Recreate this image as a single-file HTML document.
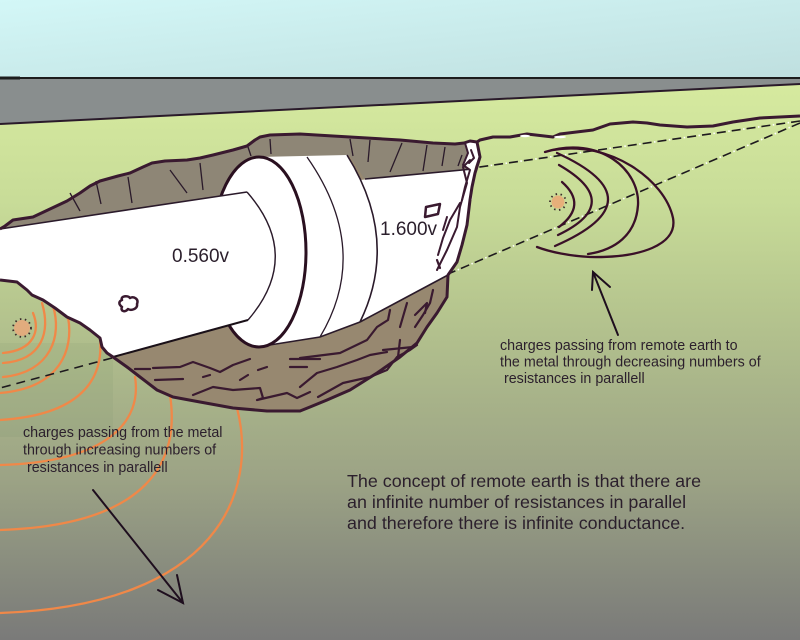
<!DOCTYPE html>
<html><head><meta charset="utf-8"><style>
html,body{margin:0;padding:0;background:#fff;}
svg{display:block;}
text{font-family:"Liberation Sans",Arial,sans-serif;fill:#2b1f2c;}
</style></head><body>
<svg width="800" height="640" viewBox="0 0 800 640" xmlns="http://www.w3.org/2000/svg">
<defs>
<linearGradient id="sky" x1="0" y1="0" x2="1" y2="1">
<stop offset="0" stop-color="#d3f7f7"/><stop offset="1" stop-color="#bfdfdf"/>
</linearGradient>
<linearGradient id="gnd" gradientUnits="userSpaceOnUse" x1="0" y1="84" x2="0" y2="640">
<stop offset="0" stop-color="#d6ea9f"/>
<stop offset="0.21" stop-color="#c8dc98"/>
<stop offset="0.39" stop-color="#b7c78f"/>
<stop offset="0.57" stop-color="#a7b289"/>
<stop offset="0.71" stop-color="#9ca385"/>
<stop offset="0.85" stop-color="#8b8f7f"/>
<stop offset="1" stop-color="#7a7a79"/>
</linearGradient>
</defs>

<!-- sky -->
<rect x="0" y="0" width="800" height="79" fill="url(#sky)"/>
<!-- gray band -->
<polygon points="0,78 800,78 800,84 0,124" fill="#898e8e"/>
<!-- ground -->
<polygon points="0,124 800,84 800,640 0,640" fill="url(#gnd)"/>
<line x1="0" y1="78" x2="800" y2="78" stroke="#1c1c1c" stroke-width="2"/>
<rect x="0" y="76.5" width="20" height="3" fill="#1c1c1c"/>
<line x1="0" y1="124" x2="800" y2="84" stroke="#2a1a2a" stroke-width="2"/>

<!-- faint rectangle -->
<rect x="0" y="343" width="113" height="94" fill="#6f8a62" opacity="0.10"/>

<!-- orange arcs -->
<g fill="none" stroke="#f08848" stroke-width="2.3" stroke-linecap="round">
<path d="M33,313 C40,330 35,350 3,353"/>
<path d="M42,303 C50,330 44,360 3,363"/>
<path d="M53,306 C62,335 52,372 3,377"/>
<path d="M68,317 C74,350 60,388 0,393"/>
<path d="M100,338 C104,380 80,415 0,420"/>
<path d="M135,377 C142,420 110,462 0,465"/>
<path d="M170,395 C180,460 150,525 0,530"/>
<path d="M237,408 C258,490 220,605 0,613"/>
</g>
<!-- left dotted circle -->
<circle cx="22" cy="328" r="8" fill="#f0a478" opacity="0.75"/>
<circle cx="22" cy="328" r="9" fill="none" stroke="#3a2a2a" stroke-width="1.8" stroke-dasharray="1.5 3.5"/>

<!-- dashed lines -->
<g fill="none" stroke-width="1.6">
<line x1="800" y1="123" x2="448" y2="274" stroke="#1e1a1e" stroke-dasharray="9 6"/>
<line x1="800" y1="123" x2="448" y2="274" stroke="#ffffff" stroke-dasharray="1.5 13.5" stroke-dashoffset="-11"/>
<line x1="800" y1="121" x2="473" y2="168" stroke="#1e1a1e" stroke-dasharray="9 6"/>
<line x1="800" y1="121" x2="473" y2="168" stroke="#ffffff" stroke-dasharray="1.5 13.5" stroke-dashoffset="-11"/>
<line x1="112" y1="358" x2="0" y2="388" stroke="#1e1a1e" stroke-dasharray="9 6"/>
</g>

<!-- trench fill -->
<path d="M0,229 L5,226 L13,220 L33,217 L50,209 L67,201 L80,193 L90,186 L100,181 L118,176 L130,173 L143,167 L152,163 L165,161 L187,160 L200,158 L213,155 L233,150 L247,146 L255,140 L260,137 L270,135 L300,134 L333,136 L367,138 L400,140 L433,143 L455,144 L464,143 L470,141 L477,142 L480,157 L475,173 L472,187 L470,200 L467,225 L462,245 L457,262 L448,275 L447,297 L437,313 L427,327 L417,343 L400,357 L377,373 L350,390 L327,400 L310,407 L300,411 L267,411 L233,408 L200,402 L173,397 L157,390 L140,377 L127,367 L113,357 L107,353 L102,347 L100,338 L90,330 L80,323 L67,317 L55,308 L43,300 L32,295 L27,290 L17,282 L0,280 Z" fill="#978870"/>
<!-- back wall -->
<path d="M0,229 L5,226 L13,220 L33,217 L50,209 L67,201 L80,193 L90,186 L100,181 L118,176 L130,173 L143,167 L152,163 L165,161 L187,160 L200,158 L213,155 L233,150 L247,146 L255,140 L260,137 L270,135 L300,134 L333,136 L367,138 L400,140 L433,143 L455,144 L464,143 L470,141 L477,142 L480,157 L473,170 L365,180 L350,156 L258,157 L247,192 Z" fill="#8e8676"/>

<!-- back wall ticks -->
<g stroke="#2a1a2a" stroke-width="1.3" fill="none">
<line x1="70" y1="193" x2="80" y2="211"/>
<line x1="96" y1="181" x2="101" y2="204"/>
<line x1="128" y1="177" x2="132" y2="203"/>
<line x1="170" y1="170" x2="187" y2="193"/>
<line x1="200" y1="163" x2="203" y2="190"/>
<line x1="248" y1="147" x2="251" y2="156"/>
<line x1="270" y1="139" x2="271" y2="154"/>
<line x1="350" y1="139" x2="353" y2="156"/>
<line x1="370" y1="140" x2="368" y2="162"/>
<line x1="402" y1="143" x2="390" y2="172"/>
<line x1="427" y1="145" x2="423" y2="171"/>
<line x1="445" y1="147" x2="442" y2="166"/>
<line x1="462" y1="155" x2="458" y2="166"/>
</g>

<!-- big pipe -->
<path d="M350,181 L473,169 L472,187 L470,200 L467,225 L462,245 L457,262 L448,275 L360,322 Z" fill="#ffffff"/>
<line x1="365" y1="179" x2="473" y2="169" stroke="#2a1a2a" stroke-width="1.6"/>
<line x1="360" y1="322" x2="448" y2="275" stroke="#2a1a2a" stroke-width="1.6"/>

<!-- collar -->
<path d="M258,157 L347,155 Q400,240 360,322 L320,337 L257,347 Z" fill="#ffffff"/>
<path d="M347,155 Q400,240 360,322" fill="none" stroke="#2a1a2a" stroke-width="1.6"/>
<path d="M307,157 Q372,250 320,337" fill="none" stroke="#2a1a2a" stroke-width="1.3"/>
<path d="M257,347 L320,337 L360,322" fill="none" stroke="#2a1a2a" stroke-width="1.6"/>

<!-- ellipse face -->
<ellipse cx="259" cy="252" rx="47" ry="95" fill="#ffffff" stroke="#2a1020" stroke-width="3"/>

<!-- left pipe -->
<path d="M0,229 L247,192 Q303,256 248,320 L220,327 L113,357 L107,353 L102,347 L100,338 L90,330 L80,323 L67,317 L55,308 L43,300 L32,295 L27,290 L17,282 L0,280 Z" fill="#ffffff"/>
<line x1="0" y1="229" x2="247" y2="192" stroke="#2a1a2a" stroke-width="1.6"/>
<path d="M247,192 Q303,256 248,320" fill="none" stroke="#2a1a2a" stroke-width="1.4"/>
<line x1="248" y1="320" x2="113" y2="357" stroke="#1a1018" stroke-width="2"/>

<!-- right-corner white streak -->
<path d="M464,143 L477,142 L480,153 L475,167 L473,178 L472,200 L462,200 L465,187 L470,170 L463,165 L468,153 Z" fill="#ffffff"/>
<g fill="none" stroke="#3a1a30" stroke-width="2" stroke-linejoin="round" stroke-linecap="round">
<path d="M465,143 L468,153 L463,165 L470,170 L465,187 L462,200"/>
<path d="M471,150 L474,158 L469,163"/>
<path d="M470,160 L463,167 L467,183 L460,207 L457,227 L447,250 L437,270"/>
<path d="M460,203 L450,220 L443,238 L438,255"/>
<path d="M447,217 L443,230"/>
</g>

<!-- trench outline -->
<path d="M0,229 L5,226 L13,220 L33,217 L50,209 L67,201 L80,193 L90,186 L100,181 L118,176 L130,173 L143,167 L152,163 L165,161 L187,160 L200,158 L213,155 L233,150 L247,146 L255,140 L260,137 L270,135 L300,134 L333,136 L367,138 L400,140 L433,143 L455,144 L464,143 L470,141 L477,142 L480,157 L475,173 L472,187 L470,200 L467,225 L462,245 L457,262 L448,275 L447,297 L437,313 L427,327 L417,343 L400,357 L377,373 L350,390 L327,400 L310,407 L300,411 L267,411 L233,408 L200,402 L173,397 L157,390 L140,377 L127,367 L113,357 L107,353 L102,347 L100,338 L90,330 L80,323 L67,317 L55,308 L43,300 L32,295 L27,290 L17,282 L0,280" fill="none" stroke="#3a1a30" stroke-width="3" stroke-linejoin="round"/>
<!-- surface rough line -->
<path d="M477,142 L480,140 L493,137 L510,137 L527,134 L553,137 L560,134 L593,130 L610,124 L633,122 L647,123 L660,125 L687,127 L713,126 L733,122 L760,118 L800,116" fill="none" stroke="#3a1a30" stroke-width="3" stroke-linejoin="round"/>
<ellipse cx="525" cy="136" rx="5" ry="1.2" fill="#ffffff"/>
<ellipse cx="560" cy="137" rx="6" ry="1.2" fill="#ffffff"/>

<!-- bottom scribbles -->
<g fill="none" stroke="#3a1a30" stroke-width="2.2" stroke-linejoin="round" stroke-linecap="round">
<path d="M135,369 L150,369"/>
<path d="M153,368 L180,367 L193,362 L210,368 L220,372 L233,365 L250,359"/>
<path d="M155,380 L183,379"/>
<path d="M193,395 L213,387 L233,390 L260,388 L263,398 L257,400 L287,393 L297,398 L310,392"/>
<path d="M203,377 L210,375"/>
<path d="M240,380 L248,375"/>
<path d="M258,370 L267,367"/>
<path d="M290,359 L320,359"/>
<path d="M290,367 L307,367"/>
<path d="M300,358 L340,353 L367,340 L377,327 L388,320 L390,310"/>
<path d="M318,397 L343,383 L370,377 L387,370 L397,357 L410,350 L417,345"/>
<path d="M300,387 L317,373 L337,367 L357,360 L370,355 L387,352"/>
<path d="M383,350 L413,347"/>
<path d="M400,340 L398,357"/>
<path d="M407,303 L400,327"/>
<path d="M415,315 L427,303 L425,313"/>
<path d="M433,290 L430,303 L423,315 L415,327"/>
<path d="M437,260 L440,268"/>
</g>

<!-- blobs -->
<path d="M122,300 C120,296 128,295 130,298 C134,296 139,299 137,304 C138,309 131,311 128,309 C125,313 120,311 122,307 C118,304 119,301 122,300 Z" fill="none" stroke="#3a1a30" stroke-width="2.5" stroke-linejoin="round"/>
<path d="M426,207 L440,204 L438,214 L425,217 Z" fill="none" stroke="#3a1a30" stroke-width="2.5" stroke-linejoin="round"/>

<!-- voltage labels -->
<text x="172" y="262" font-size="19">0.560v</text>
<text x="380" y="235" font-size="19">1.600v</text>

<!-- right arcs -->
<circle cx="558" cy="202" r="6.5" fill="#f0a070" opacity="0.75"/>
<circle cx="558" cy="202" r="8" fill="none" stroke="#3a2a2a" stroke-width="1.8" stroke-dasharray="1.5 3.5"/>
<g fill="none" stroke="#3a1028" stroke-width="2.3" stroke-linecap="round">
<path d="M562,182 Q588,205 559,227"/>
<path d="M559,165 Q625,203 558,235"/>
<path d="M557,153 Q660,200 555,246"/>
<path d="M545,152 C600,135 640,170 638,205 C636,235 615,250 588,254"/>
<path d="M553,150 C610,140 665,180 673,218 C678,245 640,258 590,257 C570,256 550,252 537,247"/>
</g>

<!-- arrows -->
<g fill="none" stroke="#1e0e1e" stroke-width="2" stroke-linecap="round">
<line x1="618" y1="335" x2="593" y2="272"/>
<path d="M592,290 L593,272 L610,287"/>
<line x1="93" y1="490" x2="183" y2="603"/>
<path d="M158,590 L183,603 L177,575"/>
</g>

<!-- texts -->
<g font-size="14.3">
<text x="500" y="350">charges passing from remote earth to</text>
<text x="500" y="366.5">the metal through decreasing numbers of</text>
<text x="500" y="383" xml:space="preserve"> resistances in parallell</text>
<text x="23" y="437">charges passing from the metal</text>
<text x="23" y="454.5">through increasing numbers of</text>
<text x="23" y="472" xml:space="preserve"> resistances in parallell</text>
</g>
<g font-size="17.9">
<text x="347" y="487">The concept of remote earth is that there are</text>
<text x="347" y="508">an infinite number of resistances in parallel</text>
<text x="347" y="529">and therefore there is infinite conductance.</text>
</g>
</svg>
</body></html>
